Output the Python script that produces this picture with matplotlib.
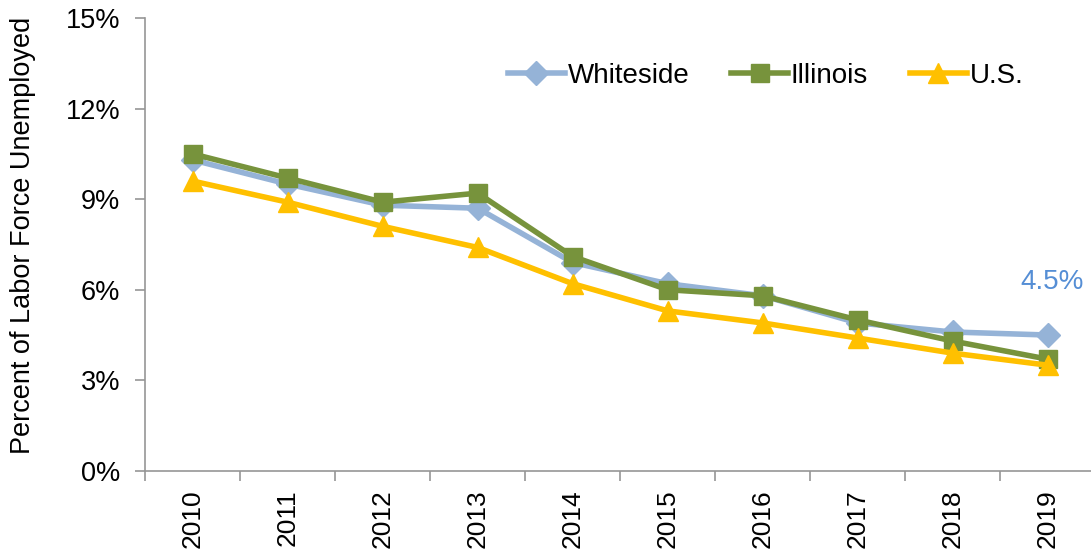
import numpy as np
import matplotlib.pyplot as plt

plt.rcParams['font.family'] = ['Liberation Sans', 'DejaVu Sans']

years = ['2010', '2011', '2012', '2013', '2014', '2015', '2016', '2017', '2018', '2019']
whiteside = [10.3, 9.5, 8.8, 8.7, 6.9, 6.2, 5.8, 4.9, 4.6, 4.5]
illinois = [10.5, 9.7, 8.9, 9.2, 7.1, 6.0, 5.8, 5.0, 4.3, 3.7]
us = [9.6, 8.9, 8.1, 7.4, 6.2, 5.3, 4.9, 4.4, 3.9, 3.5]

fig = plt.figure(figsize=(10.91, 5.54), dpi=100)
# right edge runs slightly past the canvas, like the original
ax = fig.add_axes([0.133, 0.150, 0.871, 0.8175])

x = np.arange(len(years))
ax.plot(x, whiteside, color='#95B3D7', lw=4, marker='D', ms=12, label='Whiteside')
ax.plot(x, illinois, color='#77933C', lw=4, marker='s', ms=13, label='Illinois')
ax.plot(x, us, color='#FFC000', lw=4, marker='^', ms=14, label='U.S.')

ax.annotate('4.5%', (x[-1], whiteside[-1]), xytext=(3, 38), textcoords='offset points',
            ha='center', va='center', color='#558ED5', fontsize=20)

ax.set_xlim(-0.5, len(years) - 0.5)
ax.set_ylim(0, 15)
ax.set_yticks([0, 3, 6, 9, 12, 15])
ax.set_yticklabels(['0%', '3%', '6%', '9%', '12%', '15%'], fontsize=19.5)
ax.set_xticks(x)
ax.set_xticklabels(years, rotation=90, fontsize=19)
ax.set_xticks(np.arange(-0.5, len(years)), minor=True)
ax.tick_params(axis='x', which='major', length=0, pad=13)
ax.tick_params(axis='x', which='minor', length=7, color='#969696', width=1.2)
ax.tick_params(axis='y', length=7, color='#969696', width=1.2, pad=11)
for s in ['top', 'right']:
    ax.spines[s].set_visible(False)
for s in ['left', 'bottom']:
    ax.spines[s].set_color('#969696')
    ax.spines[s].set_linewidth(1.2)

ax.set_ylabel('Percent of Labor Force Unemployed', fontsize=19.5)
ax.yaxis.set_label_coords(-0.115, 0.52)
ax.legend(loc='center left', bbox_to_anchor=(508 / 1091, 1 - 76 / 554),
          bbox_transform=fig.transFigure, ncol=3, frameon=False,
          fontsize=20, handlelength=2.05, handletextpad=0.1, columnspacing=1.5,
          borderpad=0, borderaxespad=0)

fig.savefig('out.png', dpi=100)
